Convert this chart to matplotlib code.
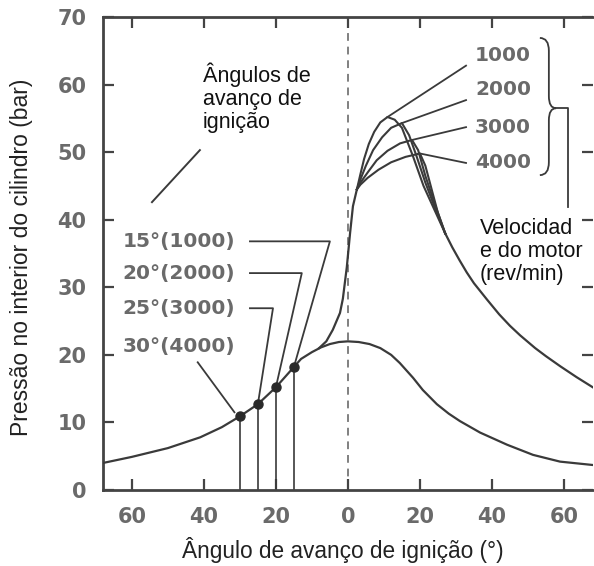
import numpy as np
import matplotlib
matplotlib.use("Agg")
import matplotlib.pyplot as plt
from matplotlib.path import Path
from matplotlib.patches import PathPatch
from matplotlib.ticker import FixedLocator, FuncFormatter

# ---------------- data ----------------
# compression curve without combustion (motoring)
mot_x = [-68, -60, -50, -41, -35, -30, -25, -20, -15, -13, -10, -7.5, -5, -2.5, 0,
         3, 6, 9, 12, 14.4, 18.1, 20.8, 24.7, 28, 31.1, 36.7, 44.2, 51.4, 58.9, 68]
mot_y = [4.0, 4.9, 6.2, 7.8, 9.3, 10.9, 12.7, 15.2, 18.2, 19.4, 20.4, 21.1, 21.6, 21.9, 22.0,
         21.9, 21.6, 21.0, 20.0, 18.8, 16.6, 14.8, 12.7, 11.3, 10.2, 8.5, 6.7, 5.2, 4.2, 3.7]

# common combustion branch (leaving the compression curve)
com_x = [-8, -6, -4.2, -2.2, -1.4, -0.3, 0.6, 1.4, 2.5]
com_y = [21.0, 22.0, 23.7, 26.2, 28.3, 33.0, 38.0, 42.0, 44.5]

# individual branches per engine speed (rev/min)
speeds = ["1000", "2000", "3000", "4000"]
br_x = {
    "1000": [2.5, 3.5, 4.5, 5.8, 7.3, 9, 11, 13, 15, 18, 21, 24, 27],
    "2000": [2.5, 3.5, 5, 7, 9.5, 12, 15, 17, 19, 21.5, 24, 27],
    "3000": [2.5, 3.5, 5.5, 8, 11, 14.5, 17.8, 19.5, 21.5, 24, 27],
    "4000": [2.5, 3.5, 5.5, 8.5, 12, 16, 20, 21.5, 23, 25, 27],
}
br_y = {
    "1000": [44.5, 46.8, 49.0, 51.2, 53.0, 54.4, 55.2, 54.8, 53.6, 49.5, 45.0, 41.5, 38.0],
    "2000": [44.5, 46.0, 48.0, 50.3, 52.2, 53.6, 54.3, 52.5, 49.5, 45.5, 42.0, 38.0],
    "3000": [44.5, 45.5, 47.0, 48.8, 50.2, 51.3, 51.8, 50.3, 46.5, 42.5, 38.0],
    "4000": [44.5, 45.2, 46.2, 47.4, 48.5, 49.3, 49.8, 48.0, 45.0, 41.0, 38.0],
}

# expansion curve (common)
exp_x = [27, 29, 31, 33, 35, 38.6, 42, 45, 47.8, 52, 55, 59, 63.5, 68]
exp_y = [38.0, 35.9, 34.0, 32.2, 30.6, 28.2, 26.0, 24.3, 22.9, 21.0, 19.8, 18.3, 16.7, 15.2]

# ignition advance angles (before TDC) and labels
ign_angles = [-15, -20, -25, -30]
ign_labels = ["15°(1000)", "20°(2000)", "25°(3000)", "30°(4000)"]

x_ticks = [-60, -40, -20, 0, 20, 40, 60]
y_ticks = [0, 10, 20, 30, 40, 50, 60, 70]

# ---------------- styling ----------------
INK = "#3a3a3a"
GRAY = "#6a6a6a"
ARIAL = "Liberation Sans"

fig = plt.figure(figsize=(5.94, 5.66), dpi=100)
ax = fig.add_axes([103 / 594, 76 / 566, 489.8 / 594, 473 / 566])
ax.set_xlim(-68, 68)
ax.set_ylim(0, 70)

for s in ["left", "bottom", "top"]:
    ax.spines[s].set_color("#444444")
    ax.spines[s].set_linewidth(2.0)
ax.spines["right"].set_visible(False)

ax.xaxis.set_major_locator(FixedLocator(x_ticks))
ax.yaxis.set_major_locator(FixedLocator(y_ticks))
ax.xaxis.set_major_formatter(FuncFormatter(lambda v, p: f"{abs(int(round(v)))}"))
ax.tick_params(axis="both", direction="in", length=8, width=1.6, color="#444444",
               top=True, right=True, labelsize=15, labelcolor=GRAY)
ax.tick_params(axis="x", pad=12)
ax.tick_params(axis="y", pad=12)
for lab in ax.get_xticklabels() + ax.get_yticklabels():
    lab.set_fontweight("bold")
    lab.set_family("DejaVu Sans")

# TDC dashed line
ax.axvline(0, color="#808080", lw=1.4, ls=(0, (4, 3)), zorder=1)

# curves
ax.plot(mot_x, mot_y, color=INK, lw=1.6, zorder=3, solid_joinstyle="round")
ax.plot(com_x, com_y, color=INK, lw=1.6, zorder=3, solid_joinstyle="round")
for sp in speeds:
    ax.plot(br_x[sp], br_y[sp], color=INK, lw=1.5, zorder=3, solid_joinstyle="round")
ax.plot(exp_x, exp_y, color=INK, lw=1.6, zorder=3, solid_joinstyle="round")

# ignition points on compression curve
ign_y = [float(np.interp(a, mot_x, mot_y)) for a in ign_angles]
ax.vlines(ign_angles, 0, ign_y, color=INK, lw=1.2, zorder=2)
ax.plot(ign_angles, ign_y, "o", color="#2a2a2a", ms=6.5, zorder=4)

# left labels with leader lines
lab_y = [36.8, 32.1, 26.9, 21.2]
corner_x = [-5.0, -12.8, -20.8, None]
for lbl, ly, cx, a, ay in zip(ign_labels, lab_y, corner_x, ign_angles, ign_y):
    ax.text(-62.6, ly, lbl, fontsize=14.5, color=GRAY, fontweight="bold",
            family="DejaVu Sans", ha="left", va="center")
    if cx is not None:
        ax.plot([-27.2, cx, a], [ly, ly, ay], color=INK, lw=1.3, zorder=2)
    else:
        ax.plot([-41.7, a - 1.5], [18.9, ay + 0.6], color=INK, lw=1.3, zorder=2)

# "Ângulos de avanço de ignição" annotation
ax.text(-40.3, 63.2, "Ângulos de\navanço de\nignição", fontsize=15.5, family=ARIAL,
        color="#111111", ha="left", va="top", linespacing=1.1)
ax.plot([-41.1, -54.4], [50.3, 42.6], color=INK, lw=1.4)

# right speed labels with leader lines
spd_lab_y = [64.3, 59.2, 53.7, 48.4]
for sp, ly in zip(speeds, spd_lab_y):
    i = int(np.argmax(br_y[sp]))
    px, py = br_x[sp][i], br_y[sp][i]
    ax.plot([px, 32.8], [py, ly - 1.5 if sp in ("1000", "2000") else ly], color=INK, lw=1.3)
    ax.text(35.3, ly, sp, fontsize=14.5, color=GRAY, fontweight="bold",
            family="DejaVu Sans", ha="left", va="center")

# brace
verts = [(53.3, 66.9), (55.8, 66.9), (55.8, 65.0), (55.8, 58.3),
         (55.8, 56.5), (57.8, 56.5), (55.8, 56.5), (55.8, 54.7),
         (55.8, 48.5), (55.8, 46.6), (53.3, 46.6)]
codes = [Path.MOVETO, Path.CURVE3, Path.CURVE3, Path.LINETO,
         Path.CURVE3, Path.CURVE3, Path.CURVE3, Path.CURVE3,
         Path.LINETO, Path.CURVE3, Path.CURVE3]
ax.add_patch(PathPatch(Path(verts, codes), fill=False, edgecolor=INK, lw=1.3, clip_on=False))
ax.plot([57.8, 61.1, 61.1], [56.5, 56.5, 41.9], color=INK, lw=1.3, clip_on=False)

ax.text(36.7, 40.2, "Velocidad\ne do motor\n(rev/min)", fontsize=15.5, family=ARIAL,
        color="#111111", ha="left", va="top", linespacing=1.1, clip_on=False)

# axis labels
fig.text(22 / 594, 1 - 257 / 566, "Pressão no interior do cilindro (bar)", rotation=90,
         fontsize=16.5, family=ARIAL, color="#222222", ha="center", va="center")
fig.text(343 / 594, 1 - 550 / 566, "Ângulo de avanço de ignição (°)",
         fontsize=16.3, family=ARIAL, color="#222222", ha="center", va="center")

fig.savefig("out.png", dpi=100)
